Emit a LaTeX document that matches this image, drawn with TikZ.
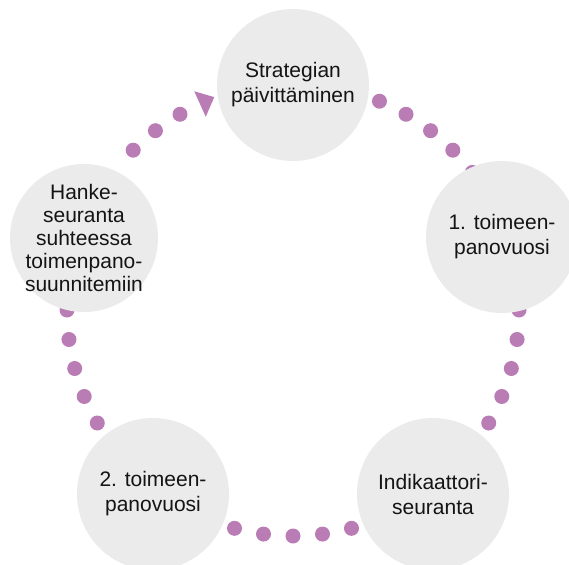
\documentclass[tikz,border=0pt]{standalone}
\usepackage{fontspec}
\setmainfont{Liberation Sans}
\usetikzlibrary{calc}
\definecolor{circfill}{RGB}{235,235,235}
\definecolor{dotc}{RGB}{186,124,180}
\definecolor{txtc}{RGB}{20,20,20}
\begin{document}
\begin{tikzpicture}[x=1pt,y=1pt,
  stagebox/.style={circle, fill=circfill, minimum size=152pt, inner sep=0pt,
    align=center, text=txtc, font=\fontsize{21}{25}\selectfont},
  dotmark/.style={fill=dotc}]
\useasboundingbox (0,0) rectangle (569,-564);
\clip (0,0) rectangle (569,-564);
\coordinate (O) at (293,-310);
% dotted cycle
\foreach \a in {67.5,60,52.5,45,37.5,
                0,-7.5,-15,-22.5,-30,
                -75,-82.5,-90,-97.5,-105,
                180,187.5,195,202.5,210,
                120,127.5,135}
  \fill[dotmark] ($(O)+(\a:226)$) circle (7.5);
\fill[dotmark] ($(O)+(110.3:227)$) -- ($(O)+(114.3:240)$) -- ($(O)+(114.3:212)$) -- cycle;
% stages
\node[stagebox] (top) at (293,-85) {Strategian\\päivittäminen};
\node[stagebox] (right) at (502,-237) {1. toimeen-\\panovuosi};
\node[stagebox] (br) at (433,-494) {Indikaattori-\\seuranta};
\node[stagebox] (bl) at (153,-494) {2. toimeen-\\panovuosi};
\node[stagebox, minimum size=148pt, inner sep=-30pt, font=\fontsize{21}{23}\selectfont] (left) at (84,-238) {Hanke-\\seuranta\\suhteessa\\toimenpano-\\suunnitemiin};
\end{tikzpicture}
\end{document}
